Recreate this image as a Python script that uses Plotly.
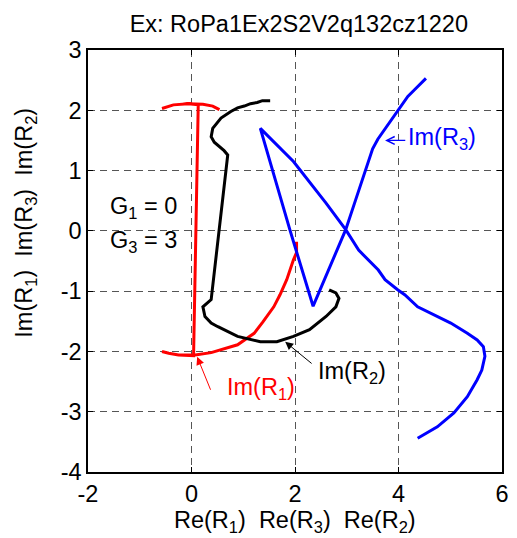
import plotly.graph_objects as go

# Root loci in the complex plane (real part on x, imaginary part on y)
r1_re = [2.03, 2.03, 1.97, 1.84, 1.71, 1.59, 1.38, 1.21, 0.89, 0.60, 0.38, 0.07,
         -0.25, -0.44, -0.57, -0.44, -0.25, 0.04,
         0.13, -0.06, -0.35, -0.57, -0.35, -0.06, 0.13, 0.22, 0.41, 0.54]
r1_im = [-0.18, -0.36, -0.48, -0.81, -1.06, -1.26, -1.51, -1.70, -1.89, -1.97, -2.02, -2.06,
         -2.06, -2.03, -2.00, -2.03, -2.06, -2.07,
         2.09, 2.11, 2.09, 2.03, 2.09, 2.11, 2.10, 2.10, 2.07, 2.01]

r2_re = [1.52, 1.37, 1.27, 1.14, 1.02, 0.89, 0.76, 0.57, 0.41, 0.38, 0.44, 0.63, 0.70,
         0.38, 0.22, 0.26, 0.38, 0.51, 0.89, 1.33, 1.65, 1.97, 2.28, 2.60, 2.79, 2.85,
         2.79, 2.66]
r2_im = [2.16, 2.16, 2.13, 2.11, 2.07, 2.04, 1.98, 1.87, 1.70, 1.56, 1.47, 1.33, 1.26,
         -1.14, -1.26, -1.42, -1.53, -1.59, -1.75, -1.84, -1.84, -1.75, -1.64, -1.42, -1.26, -1.12,
         -1.03, -0.98]

r3_re = [4.37, 4.75, 5.07, 5.33, 5.52, 5.61, 5.67, 5.64, 5.52, 5.33, 5.01, 4.69, 4.37,
         4.12, 3.99, 3.74, 3.61, 3.23, 2.98, 2.60, 2.09, 1.97, 1.33,
         1.90, 2.35,
         2.98, 3.17, 3.36, 3.50, 3.60, 3.74, 3.99, 4.18, 4.31, 4.53]
r3_im = [-3.44, -3.25, -3.02, -2.75, -2.47, -2.31, -2.08, -1.92, -1.81, -1.70, -1.53, -1.39, -1.26,
         -1.06, -0.98, -0.81, -0.65, -0.32, 0.02, 0.46, 1.01, 1.15, 1.70,
         0.02, -1.25,
         0.02, 0.51, 1.01, 1.36, 1.52, 1.69, 2.01, 2.23, 2.34, 2.53]

x_ticks = [-2, 0, 2, 4, 6]
y_ticks = [-4, -3, -2, -1, 0, 1, 2, 3]

title_text = "Ex: RoPa1Ex2S2V2q132cz1220"
x_label = "Re(R<sub>1</sub>)  Re(R<sub>3</sub>)  Re(R<sub>2</sub>)"
y_label = "Im(R<sub>1</sub>)  Im(R<sub>3</sub>)  Im(R<sub>2</sub>)"

FONT = "Arial, Liberation Sans, sans-serif"
FS = 23.5

fig = go.Figure()
fig.add_trace(go.Scatter(x=r1_re, y=r1_im, mode="lines",
                         line=dict(color="#ff0000", width=3), showlegend=False))
fig.add_trace(go.Scatter(x=r2_re, y=r2_im, mode="lines",
                         line=dict(color="#000000", width=3), showlegend=False))
fig.add_trace(go.Scatter(x=r3_re, y=r3_im, mode="lines",
                         line=dict(color="#0000ff", width=3), showlegend=False))

axis_common = dict(
    showgrid=True, gridcolor="#555555", griddash="7px,5px", gridwidth=1,
    zeroline=False, showline=True, linecolor="black", linewidth=1.5, mirror="ticks",
    ticks="inside", ticklen=5, tickcolor="black",
    tickfont=dict(family=FONT, size=FS, color="black"),
)

fig.update_xaxes(range=[-2, 6], tickvals=x_ticks, ticktext=[str(v) for v in x_ticks],
                 **axis_common)
fig.update_yaxes(range=[-4, 3], tickvals=y_ticks, ticktext=[str(v) for v in y_ticks],
                 **axis_common)

annotations = [
    # axis labels
    dict(text=x_label, xref="paper", yref="paper", x=0.5, y=-0.118,
         xanchor="center", yanchor="middle", showarrow=False,
         font=dict(family=FONT, size=FS, color="black")),
    dict(text=y_label, xref="paper", yref="paper", x=-0.153, y=0.59,
         xanchor="center", yanchor="middle", textangle=-90, showarrow=False,
         font=dict(family=FONT, size=FS, color="black")),
    # parameter notes
    dict(text="G<sub>1</sub> = 0", x=-1.61, y=0.39, xref="x", yref="y",
         xanchor="left", yanchor="middle", showarrow=False,
         font=dict(family=FONT, size=FS, color="black")),
    dict(text="G<sub>3</sub> = 3", x=-1.61, y=-0.17, xref="x", yref="y",
         xanchor="left", yanchor="middle", showarrow=False,
         font=dict(family=FONT, size=FS, color="black")),
    # curve labels
    dict(text="Im(R<sub>1</sub>)", x=0.64, y=-2.62, xref="x", yref="y",
         xanchor="left", yanchor="middle", showarrow=False,
         font=dict(family=FONT, size=FS, color="#ff0000")),
    dict(text="", x=0.11, y=-2.09, ax=0.38, ay=-2.66, xref="x", yref="y",
         axref="x", ayref="y", showarrow=True, arrowhead=2, arrowsize=1.6,
         arrowwidth=1, arrowcolor="#ff0000"),
    dict(text="Im(R<sub>2</sub>)", x=2.41, y=-2.35, xref="x", yref="y",
         xanchor="left", yanchor="middle", showarrow=False,
         font=dict(family=FONT, size=FS, color="black")),
    dict(text="", x=1.81, y=-1.84, ax=2.35, ay=-2.22, xref="x", yref="y",
         axref="x", ayref="y", showarrow=True, arrowhead=2, arrowsize=1.6,
         arrowwidth=1, arrowcolor="black"),
    dict(text="Im(R<sub>3</sub>)", x=4.15, y=1.53, xref="x", yref="y",
         xanchor="left", yanchor="middle", showarrow=False,
         font=dict(family=FONT, size=FS, color="#0000ff")),
    dict(text="", x=3.74, y=1.50, ax=4.16, ay=1.50, xref="x", yref="y",
         axref="x", ayref="y", showarrow=True, arrowhead=5, arrowsize=1.3,
         arrowwidth=1.2, arrowcolor="#0000ff"),
]

fig.update_layout(
    width=517, height=538,
    margin=dict(l=88, r=8, t=50, b=66),
    paper_bgcolor="white", plot_bgcolor="white",
    title=dict(text=title_text, x=0.578, xanchor="center", y=1 - 24 / 538,
               yref="container", yanchor="middle",
               font=dict(family=FONT, size=FS, color="black")),
    annotations=annotations,
    showlegend=False,
)

fig.write_html("out.html")
